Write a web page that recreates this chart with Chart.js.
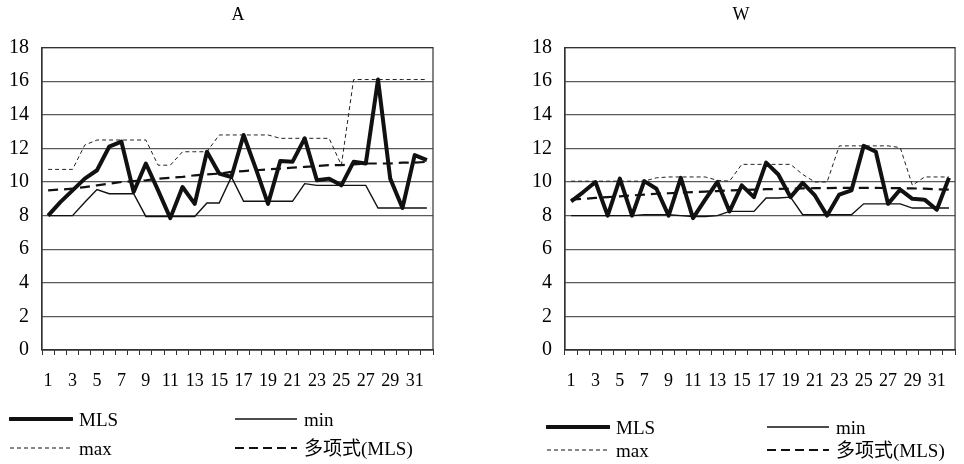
<!DOCTYPE html>
<html>
<head>
<meta charset="utf-8">
<script src="https://cdn.jsdelivr.net/npm/chart.js@4.4.0/dist/chart.umd.min.js"></script>
<style>
  body { margin: 0; background: #fff; }
  #wrap { position: relative; width: 964px; height: 464px; font-family: "Liberation Serif", "Noto Sans CJK SC", serif; }
  .panel { position: absolute; top: 0; height: 464px; }
  .leyenda { position: absolute; font-size: 19px; color: #000; line-height: 1; }
  .leyenda .item { position: absolute; white-space: nowrap; }
  .leyenda svg { position: absolute; top: -6px; }
  .leyenda span { position: absolute; top: -9px; }
</style>
</head>
<body>
<div id="wrap">
  <div class="panel" style="left:0;width:476px"><canvas id="graficaA"></canvas></div>
  <div class="panel" style="left:518px;width:446px"><canvas id="graficaW"></canvas></div>
</div>
<script>
const dias = ['1','2','3','4','5','6','7','8','9','10','11','12','13','14','15','16',
  '17','18','19','20','21','22','23','24','25','26','27','28','29','30','31','32'];
const ticksY = [0, 2, 4, 6, 8, 10, 12, 14, 16, 18];

// A
const mlsA = [8.0, 8.8, 9.5, 10.2, 10.7, 12.1, 12.4, 9.4, 11.1, 9.5, 7.85, 9.7, 8.7, 11.8, 10.5, 10.3,
  12.8, 10.8, 8.7, 11.25, 11.2, 12.6, 10.1, 10.2, 9.8, 11.2, 11.1, 16.1, 10.2, 8.45, 11.6, 11.3];
const minA = [8.0, 8.0, 8.0, 8.8, 9.55, 9.3, 9.3, 9.3, 7.95, 7.95, 7.95, 7.95, 7.95, 8.75, 8.75, 10.3,
  8.85, 8.85, 8.85, 8.85, 8.85, 9.9, 9.8, 9.8, 9.8, 9.8, 9.8, 8.45, 8.45, 8.45, 8.45, 8.45];
const maxA = [10.75, 10.75, 10.75, 12.2, 12.5, 12.5, 12.5, 12.5, 12.5, 11.0, 11.0, 11.8, 11.8, 11.8, 12.8, 12.8,
  12.8, 12.8, 12.8, 12.6, 12.6, 12.6, 12.6, 12.6, 11.0, 16.1, 16.1, 16.1, 16.1, 16.1, 16.1, 16.1];
const tendA = [9.5, 9.55, 9.6, 9.7, 9.8, 9.9, 10.0, 10.05, 10.1, 10.2, 10.25, 10.3, 10.4, 10.45, 10.5, 10.6,
  10.65, 10.7, 10.75, 10.8, 10.85, 10.9, 10.95, 11.0, 11.0, 11.05, 11.1, 11.1, 11.1, 11.15, 11.15, 11.2];

// W
const mlsW = [8.85, 9.4, 10.0, 8.0, 10.2, 8.0, 10.05, 9.6, 8.0, 10.25, 7.85, 8.95, 10.0, 8.25, 9.8, 9.1,
  11.15, 10.45, 9.1, 9.95, 9.2, 8.0, 9.25, 9.5, 12.15, 11.8, 8.7, 9.55, 9.0, 8.95, 8.35, 10.25];
const minW = [8.0, 8.0, 8.0, 8.0, 8.0, 8.0, 8.05, 8.05, 8.05, 8.0, 7.95, 7.95, 8.0, 8.25, 8.25, 8.25,
  9.05, 9.05, 9.1, 8.05, 8.05, 8.05, 8.05, 8.05, 8.7, 8.7, 8.7, 8.7, 8.45, 8.45, 8.45, 8.45];
const maxW = [10.05, 10.05, 10.05, 10.05, 10.05, 10.05, 10.05, 10.25, 10.3, 10.3, 10.3, 10.3, 10.1, 10.05, 11.05, 11.05,
  11.05, 11.05, 11.05, 10.45, 10.0, 10.0, 12.15, 12.15, 12.15, 12.15, 12.15, 12.05, 9.8, 10.3, 10.3, 10.3];
const tendW = [8.95, 9.0, 9.05, 9.1, 9.15, 9.2, 9.25, 9.3, 9.33, 9.37, 9.4, 9.43, 9.46, 9.5, 9.52, 9.55,
  9.57, 9.59, 9.6, 9.62, 9.63, 9.64, 9.65, 9.65, 9.65, 9.65, 9.64, 9.63, 9.62, 9.6, 9.57, 9.54];

const nombres = ['MLS', 'min', 'max', '多项式(MLS)'];
const fuente = '"Liberation Serif", "Noto Sans CJK SC", serif';
const gris = '#5a5a5a';

// borde del area de trazado
const bordePlugin = {
  id: 'borde',
  afterDraw(chart) {
    const a = chart.chartArea;
    const ctx = chart.ctx;
    ctx.save();
    ctx.strokeStyle = '#333';
    ctx.lineWidth = 1.2;
    ctx.strokeRect(a.left, a.top, a.right - a.left, a.bottom - a.top);
    ctx.restore();
  }
};

function crearConfig(titulo, mls, min, max, tend, anchoY, derecha) {
  return {
    type: 'line',
    data: {
      labels: dias,
      datasets: [
        { label: nombres[0], data: mls, borderColor: '#111', borderWidth: 4, borderJoinStyle: 'round' },
        { label: nombres[1], data: min, borderColor: '#111', borderWidth: 1.4 },
        { label: nombres[2], data: max, borderColor: '#222', borderWidth: 1, borderDash: [4, 3] },
        { label: nombres[3], data: tend, borderColor: '#111', borderWidth: 2.2, borderDash: [10, 6] }
      ]
    },
    options: {
      responsive: false,
      animation: false,
      elements: { point: { radius: 0 }, line: { tension: 0 } },
      layout: { padding: { left: 0, right: 0, top: 0, bottom: 74 } },
      plugins: {
        legend: { display: false },
        tooltip: { enabled: false },
        title: {
          display: true,
          text: titulo,
          color: '#000',
          font: { family: fuente, size: 18, weight: 'normal' },
          padding: { top: 4, bottom: 22 }
        }
      },
      scales: {
        x: {
          offset: true,
          grid: { drawOnChartArea: false, drawTicks: true, tickLength: 5, offset: true, color: '#333' },
          border: { display: true, color: '#333', width: 1.2 },
          ticks: {
            autoSkip: false,
            maxRotation: 0,
            padding: 15,
            color: '#000',
            font: { family: fuente, size: 18 },
            callback: function (v, i) { return i % 2 === 0 ? dias[i] : ''; }
          },
          afterFit: function (s) { s.height = 40; }
        },
        y: {
          min: 0,
          max: 18,
          afterBuildTicks: function (s) { s.ticks = ticksY.map(v => ({ value: v })); },
          grid: { drawTicks: false, color: gris, lineWidth: 1.2 },
          border: { display: true, color: '#333', width: 1.2 },
          ticks: { padding: 13, color: '#000', font: { family: fuente, size: 20 } },
          afterFit: function (s) { s.width = anchoY; }
        },
        // eje vacio para dejar hueco a la derecha sin mover el titulo
        hueco: {
          position: 'right',
          min: 0,
          max: 18,
          grid: { display: false },
          border: { display: false },
          ticks: { display: false },
          afterFit: function (s) { s.width = derecha; }
        }
      }
    },
    plugins: [bordePlugin]
  };
}

function crearLeyenda(x1, x2, y1, y2) {
  const cont = document.createElement('div');
  cont.className = 'leyenda';
  cont.style.left = '0px';
  cont.style.top = '0px';
  const muestras = [
    { w: 4, dash: '' },
    { w: 1.4, dash: '' },
    { w: 1, dash: '4 3' },
    { w: 2.2, dash: '9 5' }
  ];
  const pos = [[x1, y1], [x2, y1], [x1, y2], [x2, y2]];
  nombres.forEach((n, i) => {
    const item = document.createElement('div');
    item.className = 'item';
    item.style.left = pos[i][0] + 'px';
    item.style.top = pos[i][1] + 'px';
    item.innerHTML = `
      <svg width="64" height="12" style="left:0"><line x1="1" y1="6" x2="63" y2="6" stroke="#111"
        stroke-width="${muestras[i].w}" stroke-dasharray="${muestras[i].dash}" stroke-linecap="${i === 0 ? 'round' : 'butt'}"/></svg>
      <span style="left:70px">${n}</span>`;
    cont.appendChild(item);
  });
  document.getElementById('wrap').appendChild(cont);
}

function dibujar(id, ancho, titulo, mls, min, max, tend, anchoY, derecha) {
  const canvas = document.getElementById(id);
  canvas.width = ancho;
  canvas.height = 464;
  new Chart(canvas.getContext('2d'), crearConfig(titulo, mls, min, max, tend, anchoY, derecha));
}

dibujar('graficaA', 476, 'A', mlsA, minA, maxA, tendA, 42, 43);
dibujar('graficaW', 446, 'W', mlsW, minW, maxW, tendW, 47, 1);

crearLeyenda(9, 234, 419, 448);
crearLeyenda(546, 766, 427, 450);
</script>
</body>
</html>
